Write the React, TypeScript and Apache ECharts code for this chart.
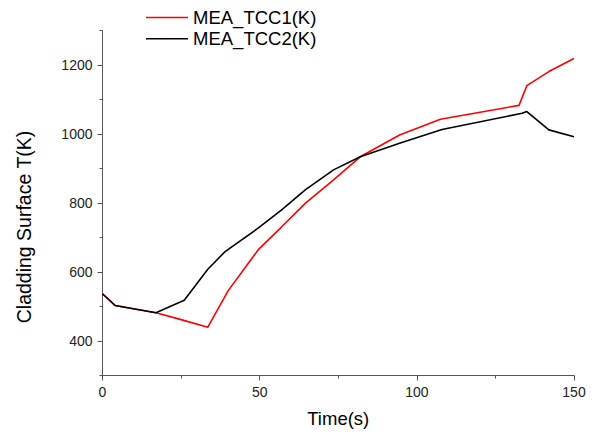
import React, { useEffect, useRef } from "react";
import * as echarts from "echarts";

const seriesNames = ["MEA_TCC1(K)", "MEA_TCC2(K)"];

const tcc1Time = [0, 4, 17, 25, 33.5, 40, 49.5, 57, 64.5, 73.5, 82, 94.5, 107.5, 132.5, 135, 142, 150];
const tcc1Temp = [537, 503, 482, 462, 440, 546, 664, 731, 799, 867, 934, 997, 1043, 1083, 1140, 1181, 1219];

const tcc2Time = [0, 4, 17, 26, 33.5, 39, 49.5, 57, 64.5, 73.5, 82, 94.5, 108, 133.5, 135, 142, 150];
const tcc2Temp = [537, 503, 482, 518, 608, 659, 727, 780, 838, 896, 934, 973, 1013, 1060, 1065, 1012, 992];

const yMajorTicks = [400, 600, 800, 1000, 1200];
const yMinorTicks = [300, 500, 700, 900, 1100, 1300];

const xAxisTitle = "Time(s)";
const yAxisTitle = "Cladding Surface T(K)";

export default function App() {
  const ref = useRef<HTMLDivElement>(null);
  useEffect(() => {
    if (!ref.current) return;
    const chart = echarts.init(ref.current, null, { renderer: "svg" });
    const font = "Arial, 'Liberation Sans', sans-serif";
    const axisColor = "#555";
    chart.setOption({
      animation: false,
      backgroundColor: "#fff",
      textStyle: { fontFamily: font },
      grid: { left: 102.5, right: 21, top: 30.5, bottom: 58.5, containLabel: false },
      legend: {
        orient: "vertical",
        left: 141,
        top: 3,
        icon: "rect",
        itemWidth: 42,
        itemHeight: 1.6,
        itemGap: 2.3,
        textStyle: { fontSize: 18.5, color: "#000", fontFamily: font },
        data: seriesNames,
      },
      xAxis: {
        type: "value",
        min: 0,
        max: 150,
        interval: 50,
        name: xAxisTitle,
        nameLocation: "middle",
        nameGap: 33,
        nameTextStyle: { fontSize: 18.5, color: "#000", fontFamily: font },
        axisLine: { show: true, lineStyle: { color: axisColor, width: 1 } },
        axisTick: { show: true, inside: false, length: 5, lineStyle: { color: axisColor } },
        minorTick: { show: true, splitNumber: 2, length: 3, lineStyle: { color: axisColor } },
        axisLabel: { fontSize: 14, color: "#222", margin: 9, fontFamily: font, formatter: (v: number) => String(v) },
        splitLine: { show: false },
        minorSplitLine: { show: false },
      },
      yAxis: [
        {
          type: "value",
          min: 300,
          max: 1300,
          interval: 100,
          axisLine: { show: true, onZero: false, lineStyle: { color: axisColor, width: 1 } },
          axisTick: { show: true, inside: false, length: 5, customValues: yMajorTicks, lineStyle: { color: axisColor } },
          axisLabel: {
            fontSize: 14,
            color: "#222",
            margin: 10,
            customValues: yMajorTicks,
            fontFamily: font,
            formatter: (v: number) => String(v),
          },
          splitLine: { show: false },
        },
        {
          type: "value",
          min: 300,
          max: 1300,
          interval: 100,
          position: "left",
          axisLine: { show: false },
          axisTick: { show: true, inside: false, length: 3, customValues: yMinorTicks, lineStyle: { color: axisColor } },
          axisLabel: { show: false },
          splitLine: { show: false },
        },
      ],
      graphic: [
        {
          type: "text",
          x: 24,
          y: 227,
          rotation: Math.PI / 2,
          style: {
            text: yAxisTitle,
            fontSize: 19.5,
            fontFamily: font,
            fill: "#000",
            align: "center",
            verticalAlign: "middle",
          },
        },
      ],
      series: [
        {
          name: seriesNames[0],
          type: "line",
          symbol: "none",
          z: 3,
          lineStyle: { color: "#ff0000", width: 1.6 },
          itemStyle: { color: "#ff0000" },
          data: tcc1Time.map((t, i) => [t, tcc1Temp[i]]),
        },
        {
          name: seriesNames[1],
          type: "line",
          symbol: "none",
          z: 4,
          lineStyle: { color: "#000000", width: 1.6 },
          itemStyle: { color: "#000000" },
          data: tcc2Time.map((t, i) => [t, tcc2Temp[i]]),
        },
      ],
    });
    return () => chart.dispose();
  }, []);
  return (
    <div
      ref={ref}
      style={{ position: "fixed", left: 0, top: 0, width: 595, height: 434, background: "#fff" }}
    />
  );
}
